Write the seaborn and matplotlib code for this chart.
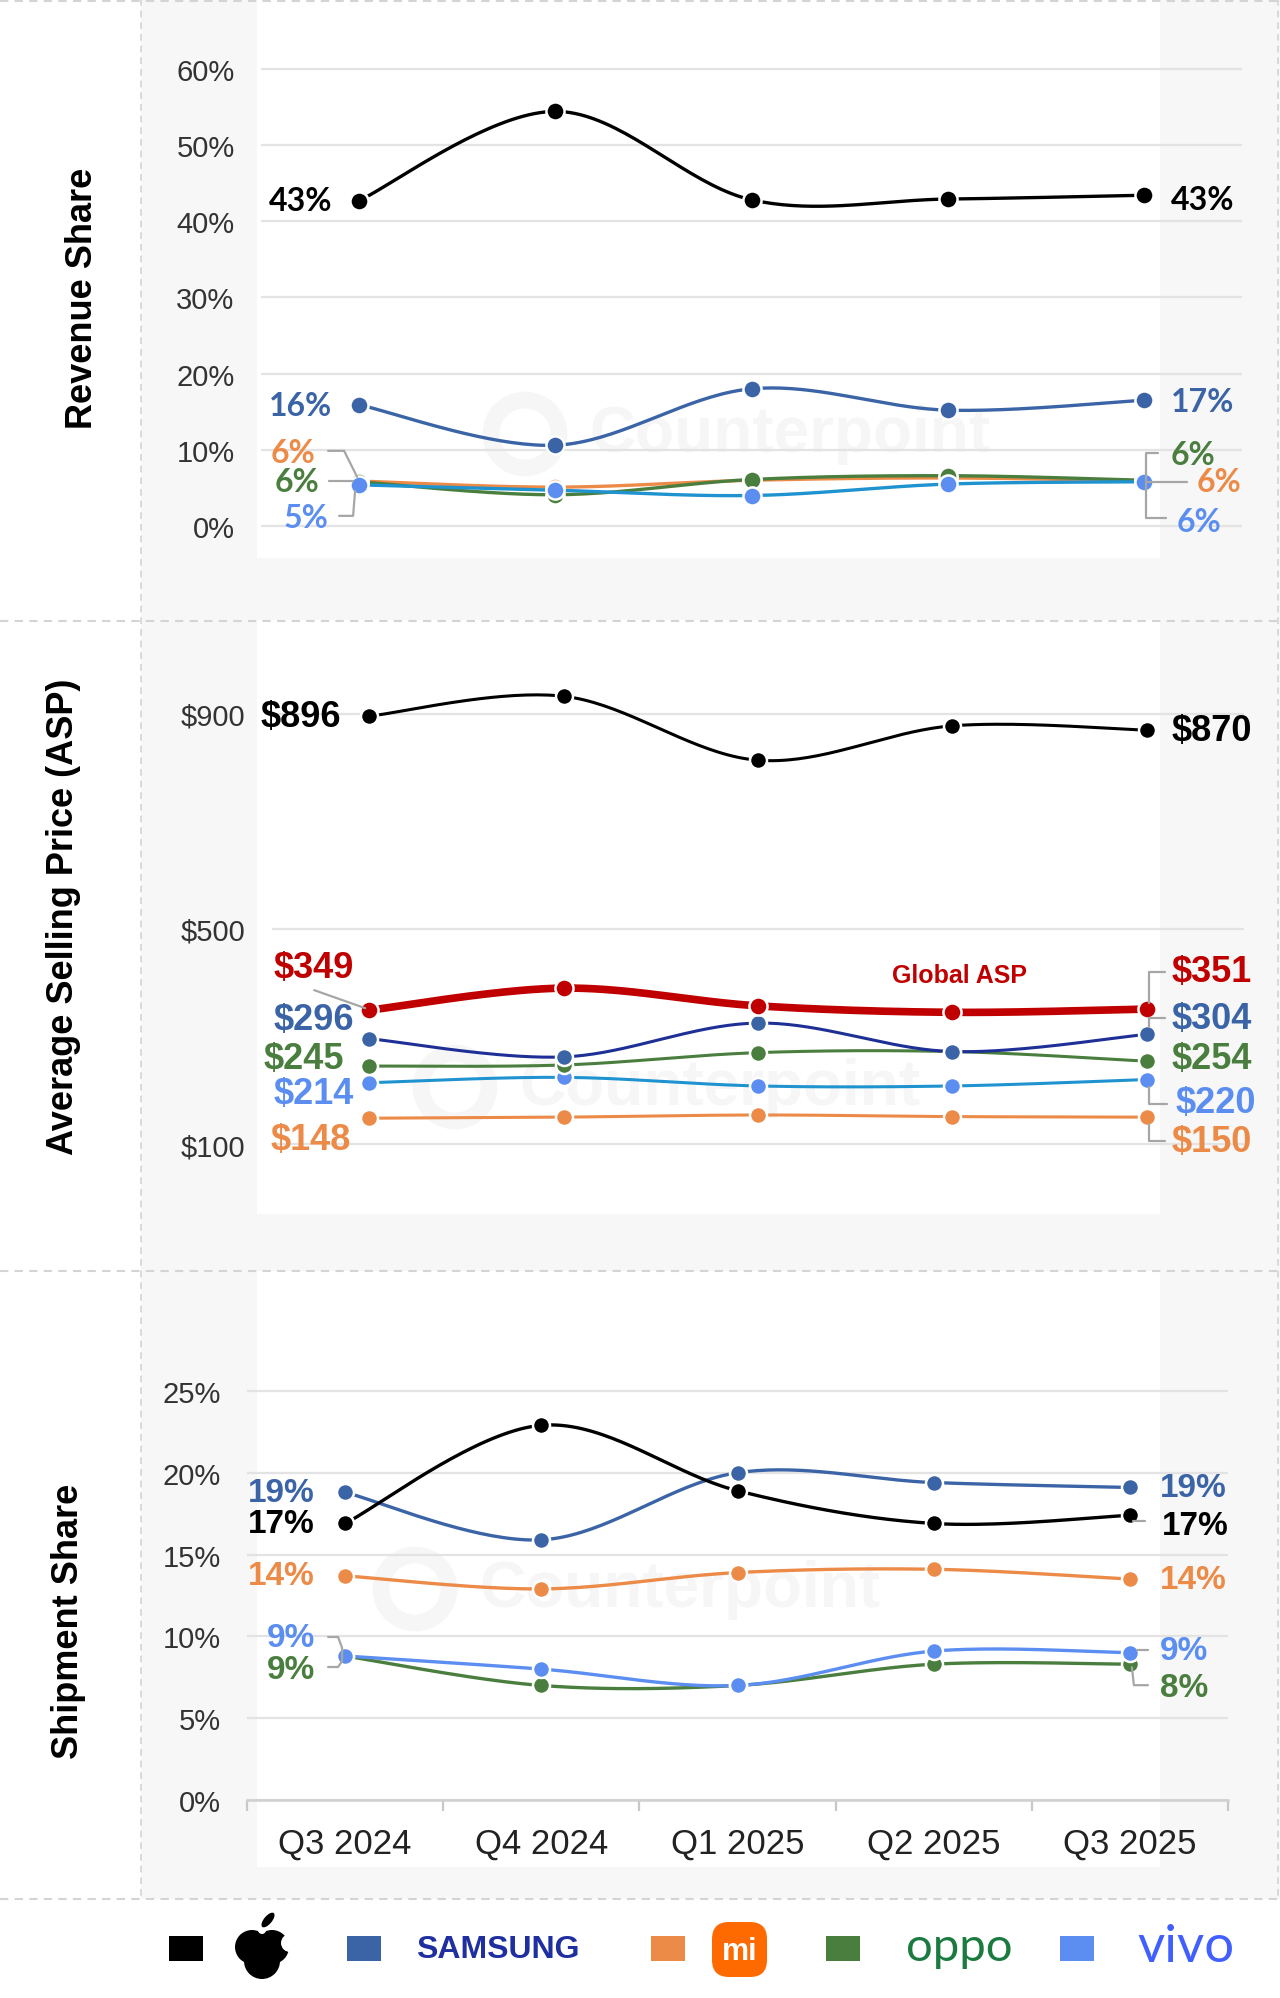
import numpy as np
import pandas as pd
import matplotlib
matplotlib.use("Agg")
import matplotlib.pyplot as plt
import seaborn as sns
from matplotlib.patches import Rectangle, Circle, Ellipse, FancyBboxPatch
from matplotlib.lines import Line2D
from matplotlib.transforms import IdentityTransform

# ---------------- data ----------------
quarters = ["Q3 2024", "Q4 2024", "Q1 2025", "Q2 2025", "Q3 2025"]

rev_apple = [42.7, 54.4, 42.8, 42.9, 43.4]
rev_samsung = [15.9, 10.6, 18.0, 15.2, 16.5]
rev_xiaomi = [5.9, 5.1, 6.0, 6.3, 5.9]
rev_oppo = [5.8, 4.1, 6.1, 6.6, 6.0]
rev_vivo = [5.4, 4.7, 4.0, 5.5, 5.8]

asp_apple = [896, 933, 814, 878, 870]
asp_global = [349, 390, 357, 345, 351]
asp_samsung = [296, 262, 325, 272, 304]
asp_oppo = [245, 247, 270, 272, 254]
asp_vivo = [214, 224, 208, 208, 220]
asp_xiaomi = [148, 150, 154, 151, 150]

shp_apple = [16.9, 22.9, 18.9, 16.9, 17.4]
shp_samsung = [18.8, 15.9, 20.0, 19.4, 19.1]
shp_xiaomi = [13.7, 12.9, 13.9, 14.1, 13.5]
shp_vivo = [8.8, 8.0, 7.0, 9.1, 9.0]
shp_oppo = [8.8, 7.0, 7.0, 8.3, 8.3]

rev_ticks = [0, 10, 20, 30, 40, 50, 60]
rev_ticklabels = ["0%", "10%", "20%", "30%", "40%", "50%", "60%"]
asp_ticks = [100, 500, 900]
asp_ticklabels = ["$100", "$500", "$900"]
shp_ticks = [0, 5, 10, 15, 20, 25]
shp_ticklabels = ["0%", "5%", "10%", "15%", "20%", "25%"]

# ---------------- style ----------------
APPLE = "#000000"
SAMSUNG = "#3b64a7"
SAMSUNG_DARK = "#1e2f96"
XIAOMI = "#ec8a48"
OPPO = "#4a7e3e"
VIVO = "#5b8ef0"
VIVO_LINE = "#1f93cf"
GLOBAL = "#c00000"
GRID = "#e3e3e3"
LEAD = "#a6a6a6"
BG = "#f7f7f7"

sns.set_theme(style="white")
plt.rcParams["font.family"] = ["Liberation Sans", "DejaVu Sans"]

W, H = 1280, 1999
fig = plt.figure(figsize=(W / 100, H / 100), dpi=100)
fig.patch.set_facecolor("white")


def px_rect(x0, y0, x1, y1, color):
    fig.add_artist(Rectangle((x0 / W, 1 - y1 / H), (x1 - x0) / W, (y1 - y0) / H,
                             transform=fig.transFigure, color=color, lw=0, zorder=-2))


def px_line(xs, ys, **kw):
    fig.add_artist(Line2D(xs, [H - y for y in ys], transform=IdentityTransform(), **kw))


def add_ax(x0, y0, x1, y1):
    ax = fig.add_axes([x0 / W, 1 - y1 / H, (x1 - x0) / W, (y1 - y0) / H])
    ax.set_facecolor("none")
    for s in ax.spines.values():
        s.set_visible(False)
    return ax


def smooth(vals, n=40):
    y = np.asarray(vals, float)
    pts = np.column_stack([np.arange(len(y)), y])
    ext = np.vstack([pts[0], pts, pts[-1]])
    out = []
    t = np.linspace(0, 1, n)[:, None]
    for i in range(len(y) - 1):
        p0, p1, p2, p3 = ext[i], ext[i + 1], ext[i + 2], ext[i + 3]
        c1 = p1 + (p2 - p0) / 6
        c2 = p2 - (p3 - p1) / 6
        seg = (1 - t) ** 3 * p1 + 3 * (1 - t) ** 2 * t * c1 + 3 * (1 - t) * t ** 2 * c2 + t ** 3 * p2
        out.append(seg if i == 0 else seg[1:])
    return np.vstack(out)


def series(ax, vals, line_color, marker_color, lw=2.4, s=170, z=3):
    sm = smooth(vals)
    sns.lineplot(x=sm[:, 0], y=sm[:, 1], ax=ax, color=line_color, lw=lw,
                 sort=False, estimator=None, zorder=z)
    sns.scatterplot(x=np.arange(len(vals)), y=vals, ax=ax, color=marker_color, s=s,
                    edgecolor="white", linewidth=1.8, zorder=z + 0.5)


def label(ax, i, v, txt, dx, dy, color, ha, size=22, family=None):
    fam = family if family else ["Liberation Sans", "DejaVu Sans"]
    ax.annotate(txt, xy=(i, v), xytext=(dx, -dy), textcoords="offset pixels",
                ha=ha, va="center", color=color, fontsize=size, fontweight="bold",
                family=fam, annotation_clip=False, zorder=6)


def leader(ax, i, v, offs):
    p = ax.transData.transform((i, v))
    fig.add_artist(Line2D([p[0] + dx for dx, dy in offs], [p[1] - dy for dx, dy in offs],
                          transform=IdentityTransform(), color=LEAD, lw=1.6, zorder=5))


def style_y(ax, ticks, labels, lo, hi):
    ax.set_ylim(lo, hi)
    ax.set_xlim(-0.5, 4.5)
    ax.set_yticks(ticks)
    ax.set_yticklabels(labels, fontsize=21, color="#333333")
    ax.tick_params(axis="y", length=0, pad=19)
    ax.set_xticks([])
    ax.set_xlabel("")
    ax.set_ylabel("")
    for t in ticks:
        ax.axhline(t, color=GRID, lw=1.6, zorder=0)


# ---------------- backgrounds ----------------
px_rect(141, 0, 257, 1900, BG)
px_rect(1160, 0, 1280, 1900, BG)
px_rect(257, 559, 1160, 621, BG)
px_rect(257, 1215, 1160, 1272, BG)
px_rect(257, 1868, 1160, 1900, BG)
for yy in [2, 622, 1272, 1900]:
    px_line([0, W], [yy, yy], color="#d4d4d4", lw=1.5, ls=(0, (4, 3)), zorder=-1)
px_line([141, 141], [0, 1900], color="#d4d4d4", lw=1.2, ls=(0, (4, 3)), zorder=-1)
px_line([1278, 1278], [0, 1900], color="#d4d4d4", lw=1.2, ls=(0, (4, 3)), zorder=-1)

# faint watermarks
for cx, cy in [(790, 435), (720, 1088), (680, 1590)]:
    fig.text(cx / W, 1 - cy / H, "Counterpoint", ha="center", va="center", fontsize=46,
             fontweight="bold", color="#f6f6f6", zorder=-0.5)
    fig.add_artist(Circle((cx - 265, H - cy), 34, transform=IdentityTransform(),
                          fill=False, lw=12, ec="#f6f6f6", zorder=-0.5))

# ---------------- revenue share ----------------
ax1 = add_ax(261, 40, 1242, 560)
style_y(ax1, rev_ticks, rev_ticklabels, -4.33, 63.9)
series(ax1, rev_xiaomi, XIAOMI, XIAOMI, z=3)
series(ax1, rev_oppo, OPPO, OPPO, z=3.2)
series(ax1, rev_vivo, VIVO_LINE, VIVO, z=3.4)
series(ax1, rev_samsung, SAMSUNG, SAMSUNG, z=3.6)
series(ax1, rev_apple, APPLE, APPLE, z=3.8)
ax1.set_xlim(-0.5, 4.5)
ax1.set_ylim(-4.33, 63.9)
calib = ["Lato", "DejaVu Sans"]
RS = 23
label(ax1, 0, rev_apple[0], "43%", -27, 0, APPLE, "right", RS, calib)
label(ax1, 4, rev_apple[4], "43%", 27, 4, APPLE, "left", RS, calib)
label(ax1, 0, rev_samsung[0], "16%", -27, 1, SAMSUNG, "right", RS, calib)
label(ax1, 4, rev_samsung[4], "17%", 27, 1, SAMSUNG, "left", RS, calib)
label(ax1, 0, rev_vivo[0], "6%", -44, -32, XIAOMI, "right", RS, calib)
label(ax1, 0, rev_vivo[0], "6%", -40, -3, OPPO, "right", RS, calib)
label(ax1, 0, rev_vivo[0], "5%", -31, 33, VIVO, "right", RS, calib)
leader(ax1, 0, rev_vivo[0], [(-31, -34), (-15, -34), (-2, -8)])
leader(ax1, 0, rev_vivo[0], [(-30, -4), (-6, -4)])
leader(ax1, 0, rev_vivo[0], [(-20, 31), (-6, 31), (-4, 6)])
label(ax1, 4, rev_vivo[4], "6%", 27, -27, OPPO, "left", RS, calib)
label(ax1, 4, rev_vivo[4], "6%", 53, 0, XIAOMI, "left", RS, calib)
label(ax1, 4, rev_vivo[4], "6%", 33, 40, VIVO, "left", RS, calib)
leader(ax1, 4, rev_vivo[4], [(14, -29), (2, -29), (2, 36), (22, 36)])
leader(ax1, 4, rev_vivo[4], [(2, 0), (43, 0)])

# ---------------- ASP ----------------
AS = 26
ax2 = add_ax(272, 660, 1244, 1180)
style_y(ax2, asp_ticks, asp_ticklabels, 34.9, 1002.3)
series(ax2, asp_xiaomi, XIAOMI, XIAOMI, lw=2.2, s=150, z=3)
series(ax2, asp_vivo, VIVO_LINE, VIVO, lw=2.2, s=150, z=3.2)
series(ax2, asp_oppo, OPPO, OPPO, lw=2.2, s=150, z=3.4)
series(ax2, asp_samsung, SAMSUNG_DARK, SAMSUNG, lw=2.2, s=150, z=3.6)
series(ax2, asp_global, GLOBAL, GLOBAL, lw=5.5, s=170, z=3.8)
series(ax2, asp_apple, APPLE, APPLE, lw=2.2, s=150, z=4)
ax2.set_xlim(-0.5, 4.5)
ax2.set_ylim(34.9, 1002.3)
label(ax2, 0, asp_apple[0], "$896", -28, 0, APPLE, "right", AS)
label(ax2, 4, asp_apple[4], "$870", 25, 0, APPLE, "left", AS)
label(ax2, 0, asp_global[0], "$349", -15, -43, GLOBAL, "right", AS)
leader(ax2, 0, asp_global[0], [(-55, -20), (-4, -2)])
label(ax2, 0, asp_samsung[0], "$296", -15, -19, SAMSUNG, "right", AS)
label(ax2, 0, asp_oppo[0], "$245", -25, -8, OPPO, "right", AS)
label(ax2, 0, asp_vivo[0], "$214", -15, 11, VIVO, "right", AS)
label(ax2, 0, asp_xiaomi[0], "$148", -18, 21, XIAOMI, "right", AS)
ax2.annotate("Global ASP", xy=(3, asp_global[3]), xytext=(7, 37), textcoords="offset pixels",
             ha="center", va="center", color=GLOBAL, fontsize=18, fontweight="bold")
label(ax2, 4, asp_global[4], "$351", 25, -38, GLOBAL, "left", AS)
leader(ax2, 4, asp_global[4], [(18, -37), (2, -37), (2, -6)])
label(ax2, 4, asp_samsung[4], "$304", 25, -16, SAMSUNG, "left", AS)
leader(ax2, 4, asp_samsung[4], [(2, -7), (2, -16), (18, -16)])
label(ax2, 4, asp_oppo[4], "$254", 25, -3, OPPO, "left", AS)
label(ax2, 4, asp_vivo[4], "$220", 29, 23, VIVO, "left", AS)
leader(ax2, 4, asp_vivo[4], [(2, 7), (2, 24), (20, 24)])
label(ax2, 4, asp_xiaomi[4], "$150", 25, 24, XIAOMI, "left", AS)
leader(ax2, 4, asp_xiaomi[4], [(2, 7), (2, 24), (18, 24)])

# ---------------- shipment share ----------------
SS = 24
ax3 = add_ax(247, 1370, 1228, 1801)
style_y(ax3, shp_ticks, shp_ticklabels, 0, 26.34)
series(ax3, shp_oppo, OPPO, OPPO, lw=2.4, s=150, z=3)
series(ax3, shp_vivo, VIVO, VIVO, lw=2.4, s=150, z=3.2)
series(ax3, shp_xiaomi, XIAOMI, XIAOMI, lw=2.4, s=150, z=3.4)
series(ax3, shp_samsung, SAMSUNG, SAMSUNG, lw=2.4, s=150, z=3.6)
series(ax3, shp_apple, APPLE, APPLE, lw=2.4, s=150, z=3.8)
ax3.set_xlim(-0.5, 4.5)
ax3.set_ylim(0, 26.34)
ax3.spines["bottom"].set_visible(True)
ax3.spines["bottom"].set_color("#d0d0d0")
ax3.spines["bottom"].set_linewidth(1.8)
ax3.set_xticks(range(len(quarters)))
ax3.set_xticklabels(quarters, fontsize=25, color="#222222")
ax3.set_xticks(np.arange(-0.5, 5, 1), minor=True)
ax3.tick_params(axis="x", which="major", length=0, pad=19)
ax3.tick_params(axis="x", which="minor", length=8, width=1.6, color="#c8c8c8", bottom=True)
label(ax3, 0, shp_samsung[0], "19%", -30, 0, SAMSUNG, "right", SS)
label(ax3, 0, shp_apple[0], "17%", -30, 0, APPLE, "right", SS)
label(ax3, 0, shp_xiaomi[0], "14%", -30, 0, XIAOMI, "right", SS)
label(ax3, 0, shp_vivo[0], "9%", -30, -19, VIVO, "right", SS)
label(ax3, 0, shp_oppo[0], "9%", -30, 13, OPPO, "right", SS)
leader(ax3, 0, shp_vivo[0], [(-17, -19), (-7, -19), (-3, -8), (-3, 5), (-7, 11), (-17, 11)])
label(ax3, 4, shp_samsung[4], "19%", 30, 0, SAMSUNG, "left", SS)
label(ax3, 4, shp_apple[4], "17%", 32, 10, APPLE, "left", SS)
leader(ax3, 4, shp_apple[4], [(3, 6), (15, 6)])
label(ax3, 4, shp_xiaomi[4], "14%", 30, 0, XIAOMI, "left", SS)
label(ax3, 4, shp_vivo[4], "9%", 30, -2, VIVO, "left", SS)
leader(ax3, 4, shp_vivo[4], [(7, -3), (18, -3)])
label(ax3, 4, shp_oppo[4], "8%", 30, 23, OPPO, "left", SS)
leader(ax3, 4, shp_oppo[4], [(2, 3), (4, 21), (18, 21)])

# ---------------- y titles ----------------
fig.text(82 / W, 1 - 298 / H, "Revenue Share", rotation=90, ha="center", va="center",
         fontsize=26, fontweight="bold", color="black")
fig.text(64 / W, 1 - 917 / H, "Average Selling Price (ASP)", rotation=90, ha="center",
         va="center", fontsize=26, fontweight="bold", color="black")
fig.text(68 / W, 1 - 1621 / H, "Shipment Share", rotation=90, ha="center", va="center",
         fontsize=26, fontweight="bold", color="black")

# ---------------- brand legend ----------------
for x0, c in [(169, APPLE), (347, SAMSUNG), (651, XIAOMI), (826, OPPO), (1060, VIVO)]:
    fig.add_artist(Rectangle((x0, H - 1962), 34, 25, transform=IdentityTransform(),
                             color=c, lw=0))

# apple logo
I = IdentityTransform()
fig.add_artist(Circle((252, H - 1948), 17, transform=I, color="black", lw=0))
fig.add_artist(Circle((272, H - 1948), 17, transform=I, color="black", lw=0))
fig.add_artist(Ellipse((262, H - 1962), 36, 36, transform=I, color="black", lw=0))
fig.add_artist(Circle((290, H - 1944), 9, transform=I, color="white", lw=0))
fig.add_artist(Circle((262, H - 1931), 4, transform=I, color="white", lw=0))
fig.add_artist(Ellipse((268, H - 1921), 8, 18, angle=-40, transform=I, color="black", lw=0))

fig.text(498 / W, 1 - 1950 / H, "SAMSUNG", ha="center", va="center", fontsize=23,
         fontweight="bold", color="#1f2fa0")
fig.add_artist(FancyBboxPatch((712, H - 1978), 55, 55, boxstyle="round,pad=0,rounding_size=17",
                              transform=I, color="#ff6a00", lw=0))
fig.text(739.5 / W, 1 - 1952 / H, "mi", ha="center", va="center", fontsize=22,
         fontweight="bold", color="white")
fig.text(959 / W, 1 - 1948 / H, "oppo", ha="center", va="center", fontsize=34,
         color="#1a7a3f", family=["Lato", "DejaVu Sans"])
fig.text(1186 / W, 1 - 1948 / H, "vivo", ha="center", va="center", fontsize=38,
         color="#415fff", family=["Lato", "DejaVu Sans"])

fig.savefig("out.png", dpi=100, facecolor="white")
